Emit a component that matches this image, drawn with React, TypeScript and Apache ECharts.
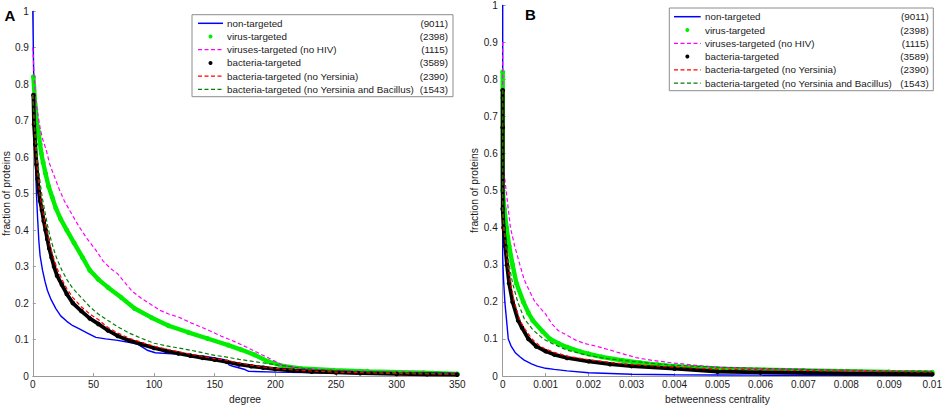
import React, { useEffect, useRef } from "react";
import * as echarts from "echarts";

const legendNames = [
  "non-targeted",
  "virus-targeted",
  "viruses-targeted (no HIV)",
  "bacteria-targeted",
  "bacteria-targeted (no Yersinia)",
  "bacteria-targeted (no Yersinia and Bacillus)",
];
const legendCounts = ["(9011)", "(2398)", "(1115)", "(3589)", "(2390)", "(1543)"];
const seriesColors = ["#0000ff", "#00ee00", "#ff00ff", "#000000", "#ff0000", "#008000"];
const seriesKinds = ["solid", "dots", "dashed", "dots", "dashed", "dashed"];

// Panel A: degree
const nonTargetedDegree = [
  [0, 1], [1, 0.76], [2, 0.6], [3, 0.5], [4, 0.43], [5, 0.37], [6, 0.33], [8, 0.29], [10, 0.26],
  [12, 0.235], [15, 0.21], [19, 0.185], [23, 0.165], [28, 0.15], [33, 0.138], [38, 0.13], [45, 0.118],
  [52, 0.106], [60, 0.102], [70, 0.098], [80, 0.092], [86, 0.088], [90, 0.08], [95, 0.07], [101, 0.064],
  [115, 0.061], [130, 0.058], [140, 0.055], [150, 0.05], [158, 0.045], [162, 0.03], [165, 0.027],
  [175, 0.018], [178, 0.013], [200, 0.011], [235, 0.009], [276, 0.006], [320, 0.005], [350, 0.004],
];
const virusTargetedDegree = [
  [0.5, 0.82], [1.6, 0.76], [2.5, 0.73], [3.3, 0.695], [4.6, 0.67], [6, 0.635], [7, 0.61], [8.5, 0.585],
  [10.5, 0.555], [13, 0.52], [16, 0.49], [19, 0.46], [23, 0.43], [28, 0.4], [34, 0.365], [41, 0.325],
  [47, 0.29], [54, 0.265], [62, 0.243], [73, 0.215], [84, 0.185], [98, 0.16], [112, 0.138], [128, 0.12],
  [144, 0.103], [161, 0.085], [172, 0.072], [183, 0.058], [194, 0.04], [207, 0.027], [221, 0.021],
  [248, 0.016], [276, 0.013], [322, 0.009], [350, 0.006],
];
const virusNoHivDegree = [
  [0, 0.9], [1, 0.83], [2, 0.77], [3, 0.74], [4, 0.72], [6, 0.68], [8, 0.65], [11, 0.62], [14, 0.58],
  [18, 0.545], [22, 0.51], [26, 0.48], [31, 0.45], [38, 0.41], [45, 0.375], [52, 0.345], [58, 0.315],
  [64, 0.295], [70, 0.28], [75, 0.26], [82, 0.232], [90, 0.212], [98, 0.195], [105, 0.18], [112, 0.17],
  [120, 0.162], [131, 0.145], [144, 0.127], [155, 0.11], [166, 0.095], [177, 0.078], [188, 0.06],
  [196, 0.047], [204, 0.033], [212, 0.025], [225, 0.02], [235, 0.018], [275, 0.013], [317, 0.011], [350, 0.009],
];
const bacteriaTargetedDegree = [
  [0.5, 0.77], [1, 0.69], [2, 0.635], [3, 0.58], [4, 0.54], [5, 0.505], [6, 0.48], [7.5, 0.455], [9, 0.425],
  [10.5, 0.4], [12, 0.375], [13.5, 0.35], [15.5, 0.325], [17.5, 0.3], [20, 0.275], [24, 0.25], [28, 0.225],
  [33, 0.2], [40, 0.178], [47, 0.158], [54, 0.143], [62, 0.125], [70, 0.11], [80, 0.097], [90, 0.087],
  [100, 0.077], [110, 0.069], [120, 0.062], [130, 0.056], [140, 0.05], [150, 0.045], [160, 0.039],
  [170, 0.032], [180, 0.027], [190, 0.023], [200, 0.019], [215, 0.015], [230, 0.012], [250, 0.01],
  [270, 0.008], [300, 0.006], [325, 0.005], [350, 0.004],
];
const bacteriaNoYersiniaDegree = [
  [0, 0.77], [1, 0.7], [2, 0.645], [3, 0.595], [4, 0.555], [5, 0.52], [6, 0.495], [8, 0.455], [10, 0.42],
  [12, 0.39], [14, 0.36], [17, 0.325], [20, 0.295], [24, 0.265], [28, 0.24], [33, 0.215], [40, 0.19],
  [47, 0.17], [54, 0.155], [62, 0.133], [70, 0.118], [80, 0.103], [90, 0.092], [100, 0.082], [110, 0.074],
  [120, 0.067], [130, 0.06], [140, 0.054], [150, 0.048], [160, 0.043], [170, 0.036], [180, 0.03],
  [190, 0.025], [200, 0.021], [215, 0.017], [230, 0.014], [250, 0.011], [275, 0.009], [300, 0.007],
  [325, 0.006], [350, 0.005],
];
const bacteriaNoYersiniaBacillusDegree = [
  [0, 0.77], [1, 0.715], [2, 0.665], [3, 0.625], [4, 0.59], [5, 0.56], [6, 0.53], [8, 0.485], [10, 0.45],
  [12, 0.415], [14, 0.385], [17, 0.35], [20, 0.32], [24, 0.29], [28, 0.265], [33, 0.24], [40, 0.215],
  [47, 0.19], [54, 0.17], [62, 0.152], [70, 0.135], [80, 0.117], [90, 0.103], [100, 0.09], [110, 0.083],
  [120, 0.077], [130, 0.071], [140, 0.064], [150, 0.057], [160, 0.052], [170, 0.046], [180, 0.041],
  [190, 0.036], [200, 0.031], [210, 0.027], [220, 0.022], [235, 0.018], [250, 0.015], [275, 0.012],
  [300, 0.01], [325, 0.008], [350, 0.006],
];

// Panel B: betweenness centrality
const nonTargetedBetweenness = [
  [0, 1], [0, 0.32], [0.00002, 0.26], [0.00005, 0.2], [0.00009, 0.15], [0.00013, 0.1], [0.0002, 0.08],
  [0.0003, 0.062], [0.0004, 0.052], [0.0005, 0.043], [0.00067, 0.033], [0.0008, 0.027], [0.001, 0.021],
  [0.0012, 0.018], [0.0015, 0.014], [0.002, 0.009], [0.0025, 0.007], [0.003, 0.005], [0.004, 0.0035],
  [0.005, 0.003], [0.006, 0.0025], [0.008, 0.002], [0.01, 0.0015],
];
const virusTargetedBetweenness = [
  [0, 0.82], [0, 0.75], [0, 0.5], [0.00004, 0.45], [0.00009, 0.4], [0.00015, 0.35], [0.00023, 0.3],
  [0.00032, 0.25], [0.00048, 0.2], [0.0006, 0.17], [0.0007, 0.15], [0.00093, 0.12], [0.0011, 0.1],
  [0.0013, 0.088], [0.0015, 0.078], [0.0018, 0.066], [0.002, 0.06], [0.0023, 0.052], [0.0028, 0.042],
  [0.0032, 0.036], [0.0036, 0.031], [0.004, 0.027], [0.0045, 0.023], [0.005, 0.02], [0.006, 0.017],
  [0.007, 0.015], [0.008, 0.013], [0.009, 0.011], [0.01, 0.01],
];
const virusNoHivBetweenness = [
  [0, 0.9], [0, 0.6], [0.00003, 0.55], [0.00008, 0.5], [0.00013, 0.45], [0.00018, 0.4], [0.00028, 0.35],
  [0.0004, 0.3], [0.0005, 0.26], [0.00062, 0.23], [0.00075, 0.2], [0.0009, 0.18], [0.001, 0.167],
  [0.00115, 0.14], [0.0013, 0.122], [0.0015, 0.11], [0.0017, 0.097], [0.0019, 0.088], [0.0022, 0.08],
  [0.0025, 0.07], [0.0028, 0.06], [0.0031, 0.05], [0.0035, 0.042], [0.004, 0.035], [0.0045, 0.029],
  [0.005, 0.024], [0.006, 0.02], [0.007, 0.018], [0.008, 0.016], [0.009, 0.013], [0.01, 0.012],
];
const bacteriaTargetedBetweenness = [
  [0, 0.77], [0, 0.67], [0, 0.45], [0.00002, 0.4], [0.00006, 0.35], [0.0001, 0.3], [0.00015, 0.25],
  [0.00023, 0.2], [0.00036, 0.15], [0.00045, 0.13], [0.0006, 0.1], [0.00078, 0.08], [0.001, 0.067],
  [0.0012, 0.058], [0.0015, 0.049], [0.002, 0.04], [0.0025, 0.032], [0.003, 0.027], [0.004, 0.02],
  [0.005, 0.012], [0.006, 0.01], [0.008, 0.007], [0.01, 0.005],
];
const bacteriaNoYersiniaBetweenness = [
  [0, 0.77], [0, 0.45], [0.00002, 0.4], [0.00007, 0.35], [0.00012, 0.3], [0.00018, 0.25], [0.00027, 0.2],
  [0.0004, 0.15], [0.0005, 0.13], [0.00068, 0.1], [0.00088, 0.08], [0.001, 0.073], [0.0012, 0.064],
  [0.0015, 0.054], [0.002, 0.044], [0.0025, 0.037], [0.003, 0.031], [0.004, 0.024], [0.005, 0.019],
  [0.006, 0.017], [0.007, 0.015], [0.008, 0.013], [0.009, 0.012], [0.01, 0.011],
];
const bacteriaNoYersiniaBacillusBetweenness = [
  [0, 0.77], [0, 0.45], [0.00002, 0.42], [0.00008, 0.36], [0.00015, 0.3], [0.00023, 0.25], [0.00035, 0.2],
  [0.0005, 0.155], [0.0007, 0.125], [0.00095, 0.1], [0.0012, 0.085], [0.0015, 0.07], [0.002, 0.055],
  [0.0025, 0.046], [0.003, 0.04], [0.0035, 0.034], [0.004, 0.029], [0.005, 0.024], [0.006, 0.021],
  [0.007, 0.018], [0.008, 0.016], [0.009, 0.014], [0.01, 0.013],
];

const degreeSeries = [
  nonTargetedDegree, virusTargetedDegree, virusNoHivDegree,
  bacteriaTargetedDegree, bacteriaNoYersiniaDegree, bacteriaNoYersiniaBacillusDegree,
];
const betweennessSeries = [
  nonTargetedBetweenness, virusTargetedBetweenness, virusNoHivBetweenness,
  bacteriaTargetedBetweenness, bacteriaNoYersiniaBetweenness, bacteriaNoYersiniaBacillusBetweenness,
];

const FONT = "'Liberation Sans', Arial, Helvetica, sans-serif";
const AXIS_GRAY = "#9a9a9a";
const TEXT = "#1a1a1a";
const LEGEND_FS = 9.8;

function makeSeries(data: number[][], i: number, grid: number) {
  const kind = seriesKinds[i];
  const color = seriesColors[i];
  const base: any = {
    type: "line",
    name: legendNames[i],
    data,
    xAxisIndex: grid,
    yAxisIndex: grid,
    silent: true,
    clip: true,
    z: 2 + i,
  };
  if (kind === "dots") {
    return {
      ...base,
      symbol: "circle",
      symbolSize: i === 1 ? 5 : 4.6,
      showSymbol: true,
      showAllSymbol: true,
      itemStyle: { color },
      lineStyle: { color, width: i === 1 ? 4.4 : 3.8 },
    };
  }
  return {
    ...base,
    symbol: "none",
    showSymbol: false,
    lineStyle: {
      color,
      width: kind === "solid" ? 1.4 : 1.2,
      type: kind === "dashed" ? [4, 2.5] : "solid",
    },
  };
}

function legendGraphic(b: any) {
  const els: any[] = [
    {
      type: "rect",
      z: 50,
      shape: { x: b.x, y: b.y, width: b.w, height: b.h },
      style: { fill: "#ffffff", stroke: "#8c8c8c", lineWidth: 1 },
    },
  ];
  const font = `${LEGEND_FS}px ${FONT}`;
  legendNames.forEach((name, i) => {
    const cy = b.row0 + i * b.step;
    const color = seriesColors[i];
    if (seriesKinds[i] === "dots") {
      els.push({
        type: "circle",
        z: 51,
        shape: { cx: (b.lx0 + b.lx1) / 2, cy, r: 2 },
        style: { fill: color },
      });
    } else {
      els.push({
        type: "line",
        z: 51,
        shape: { x1: b.lx0, y1: cy, x2: b.lx1, y2: cy },
        style: {
          stroke: color,
          lineWidth: seriesKinds[i] === "solid" ? 1.5 : 1.3,
          lineDash: seriesKinds[i] === "dashed" ? [4, 2.5] : null,
        },
      });
    }
    els.push({
      type: "text",
      z: 51,
      style: {
        text: name, x: b.tx, y: cy, fill: TEXT, font, fontSize: LEGEND_FS, fontFamily: FONT,
        align: "left", verticalAlign: "middle",
      },
    });
    els.push({
      type: "text",
      z: 51,
      style: {
        text: legendCounts[i], x: b.cx, y: cy, fill: TEXT, font, fontSize: LEGEND_FS, fontFamily: FONT,
        align: "right", verticalAlign: "middle",
      },
    });
  });
  return els;
}

function axisCommon() {
  return {
    axisLine: { show: true, onZero: false, lineStyle: { color: AXIS_GRAY, width: 1 } },
    axisTick: { show: true, inside: true, length: 3, lineStyle: { color: AXIS_GRAY } },
    splitLine: { show: false },
    nameTextStyle: { color: TEXT, fontSize: 10.3, fontFamily: FONT },
  };
}

export default function App() {
  const ref = useRef<HTMLDivElement>(null);
  useEffect(() => {
    if (!ref.current) return;
    const chart = echarts.init(ref.current, null, { renderer: "svg" });
    const labelStyle = { color: TEXT, fontSize: 10, fontFamily: FONT };
    const option: any = {
      animation: false,
      backgroundColor: "#ffffff",
      grid: [
        { left: 30.3, top: 11, width: 427, height: 371, containLabel: false },
        { left: 502.7, top: 3.5, width: 435, height: 377.2, containLabel: false },
      ],
      xAxis: [
        {
          ...axisCommon(),
          type: "value", gridIndex: 0, min: 0, max: 350, interval: 50,
          name: "degree", nameLocation: "middle", nameGap: 13,
          axisLabel: { ...labelStyle, margin: 3 },
        },
        {
          ...axisCommon(),
          type: "value", gridIndex: 1, min: 0, max: 0.01, interval: 0.001,
          name: "betweenness centrality", nameLocation: "middle", nameGap: 14,
          axisLabel: { ...labelStyle, margin: 3, formatter: (v: number) => String(+v.toFixed(3)) },
        },
      ],
      yAxis: [
        {
          ...axisCommon(),
          type: "value", gridIndex: 0, min: 0, max: 1, interval: 0.1,
          name: "fraction of proteins", nameLocation: "middle", nameGap: 20,
          axisLabel: { ...labelStyle, margin: 4, formatter: (v: number) => String(+v.toFixed(1)) },
        },
        {
          ...axisCommon(),
          type: "value", gridIndex: 1, min: 0, max: 1, interval: 0.1,
          name: "fraction of proteins", nameLocation: "middle", nameGap: 21,
          axisLabel: { ...labelStyle, margin: 5, formatter: (v: number) => String(+v.toFixed(1)) },
        },
      ],
      series: [
        ...degreeSeries.map((d, i) => makeSeries(d, i, 0)),
        ...betweennessSeries.map((d, i) => makeSeries(d, i, 1)),
      ],
      graphic: [
        {
          type: "text", z: 60,
          style: { text: "A", x: 10, y: 15, fill: "#000", font: `bold 15px ${FONT}`, fontSize: 15, fontWeight: "bold", fontFamily: FONT, align: "center", verticalAlign: "middle" },
        },
        {
          type: "text", z: 60,
          style: { text: "B", x: 530.5, y: 14.5, fill: "#000", font: `bold 15px ${FONT}`, fontSize: 15, fontWeight: "bold", fontFamily: FONT, align: "center", verticalAlign: "middle" },
        },
        ...legendGraphic({ x: 192, y: 14.7, w: 261, h: 82, row0: 23.3, step: 13.2, lx0: 198, lx1: 223, tx: 227, cx: 448 }),
        ...legendGraphic({ x: 669.3, y: 8, w: 264, h: 82.7, row0: 16.7, step: 13.3, lx0: 674, lx1: 700.7, tx: 705, cx: 928.7 }),
      ],
    };
    chart.setOption(option);
    return () => chart.dispose();
  }, []);
  return (
    <div
      ref={ref}
      style={{ position: "fixed", left: 0, top: 0, width: 945, height: 409, background: "#fff" }}
    />
  );
}
